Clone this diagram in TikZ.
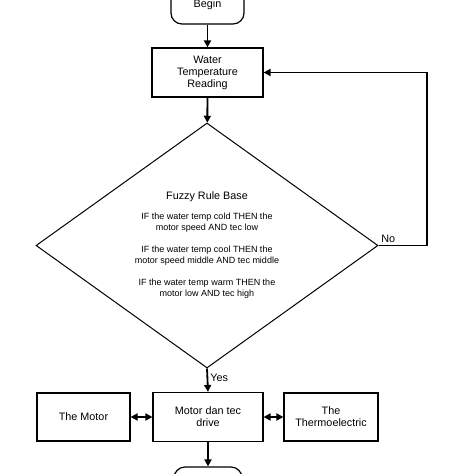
\documentclass[tikz,border=0pt]{standalone}
\usepackage{fontspec}
\setmainfont{Liberation Sans}
\usetikzlibrary{shapes.geometric,arrows.meta}

\begin{document}
\begin{tikzpicture}[x=1pt,y=-1pt]

	\useasboundingbox (0,0) rectangle (474,474);

	\tikzset{block/.style={draw,line width=1.2pt,align=center,minimum width=111,minimum height=49,font=\fontsize{10.8}{12}\selectfont}}
	\tikzset{term/.style={draw,line width=1.2pt,rounded corners=11,minimum width=73,minimum height=38,font=\fontsize{10.8}{12}\selectfont}}
	\tikzset{decision/.style={draw,diamond,aspect=1.4,line width=1pt,minimum width=342,minimum height=245,inner sep=0pt,align=center,font=\fontsize{9}{11}\selectfont}}
	\tikzset{flow/.style={line width=1.8pt,-{Triangle[length=7pt,width=7pt]}}}
	\tikzset{link/.style={line width=1.8pt,{Triangle[length=7pt,width=7pt]}-{Triangle[length=7pt,width=7pt]}}}

	% main column

	\node[term] (begin) at (207.5,5) {Begin};
	\node[block] (reading) at (207.5,72.5) {Water\\Temperature\\Reading};
	\node[decision] (rule) at (207,245.5) {{\fontsize{10.8}{13}\selectfont Fuzzy Rule Base}\\[9pt]
		IF the water temp cold THEN the\\motor speed AND tec low\\[11pt]
		IF the water temp cool THEN the\\motor speed middle AND tec middle\\[11pt]
		IF the water temp warm THEN the\\motor low AND tec high};
	\node[block,minimum width=110] (drive) at (208,417) {Motor dan tec\\drive};
	\node[term,minimum width=68] (finish) at (208,486) {};

	% outputs

	\node[block,minimum width=93,minimum height=48] (motor) at (83.5,417) {The Motor};
	\node[block,minimum width=94,minimum height=48] (thermo) at (331,417) {The\\Thermoelectric};

	% arrows

	\draw[flow] (begin) -- (reading);
	\draw[flow] (reading) -- (rule);

	\coordinate (back) at (427,245.5);
	\draw[flow] (rule.east) -- node[pos=0,above right,inner sep=2pt,font=\fontsize{10.8}{12}\selectfont] (no) {No} (back) |- (reading.east);

	\draw[flow] (rule.south) -- node[pos=0.38,right,inner sep=2pt,font=\fontsize{10.8}{12}\selectfont] (yes) {Yes} (drive.north);
	\draw[link] (drive.west) -- (motor.east);
	\draw[link] (drive.east) -- (thermo.west);
	\draw[flow] (drive.south) -- (finish.north);

\end{tikzpicture}
\end{document}
